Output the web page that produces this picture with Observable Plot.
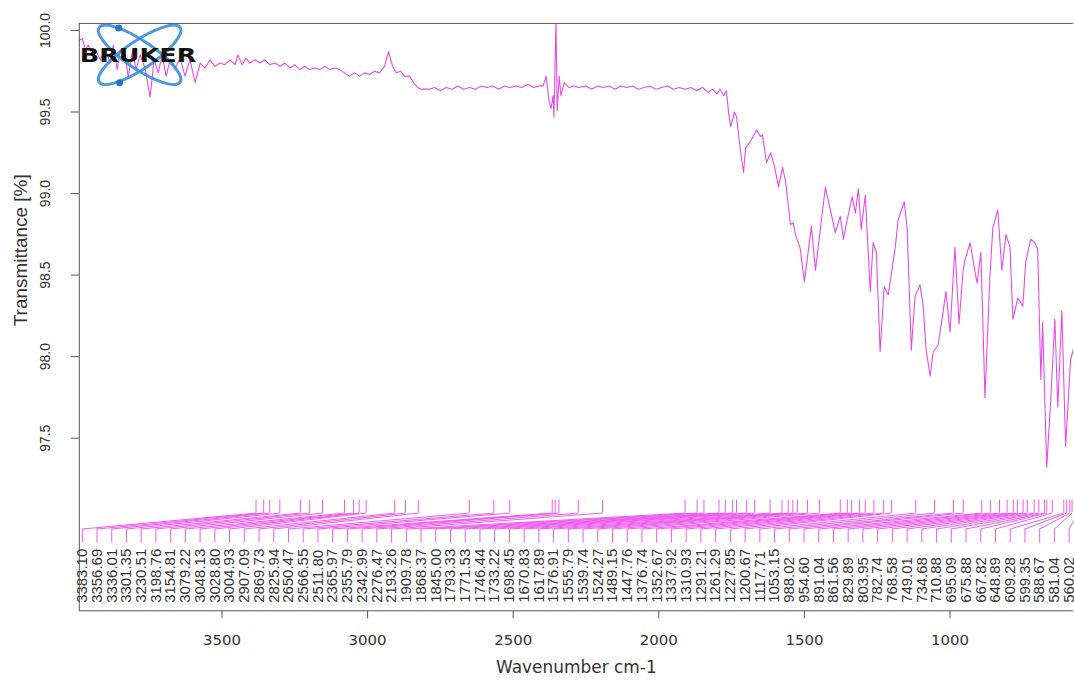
<!DOCTYPE html>
<html><head><meta charset="utf-8">
<script src="https://cdn.jsdelivr.net/npm/d3@7"></script>
<script src="https://cdn.jsdelivr.net/npm/@observablehq/plot@0.6"></script>
<style>html,body{margin:0;padding:0;overflow:hidden;background:#fff}</style>
</head><body><div id="chart"></div>
<script>
// Spectrum: wavenumber (cm-1) and transmittance (%)
const wavenumbers = [
3990,3979,3969,3959,3945,3935,3918,3901,3884,3873,3860,3849,3832,3822,3808,3795,3781,3764,3747,3733,
3719,3705,3692,3678,3661,3644,3627,3610,3592,3575,3558,3541,3524,3507,3490,3473,3455,3445,3431,3418,
3404,3387,3370,3353,3336,3318,3301,3284,3267,3250,3233,3216,3199,3181,3164,3147,3130,3113,3096,3079,
3062,3045,3027,3010,2993,2976,2959,2942,2928,2914,2901,2887,2873,2856,2842,2829,2815,2788,
2770,2750,2730,2710,2690,2670,2650,2630,2610,2590,2570,2550,2530,2510,2490,2470,2450,2430,2411,2397,
2387,2377,2370,2363,2360,2356,2353,2349,2342,2336,2325,2308,2290,2274,
2250,2230,2210,2190,2170,2150,2130,2110,2090,2070,2050,2030,2010,1990,1970,1950,1930,1910,1890,1870,
1850,1830,1815,1800,1790,1777,1768,
1760,1753,1740,1733,1719,1709,1702,1685,1664,1651,1644,1630,1616,1603,1589,1575,1565,1548,1538,1531,
1514,1500,1476,1462,1428,1394,1377,1366,1353,1336,1325,1315,1305,1291,1274,1264,1253,1240,1226,1212,
1188,1178,1157,1147,1133,1120,1103,1092,1082,1068,1058,1041,1024,1014,1000,983,969,955,949,931,
921,907,894,880,863,853,836,822,808,794,784,767,750,740,723,709,699,688,682,668,
654,640,630,616,603,586,576
];
const transmittance = [
99.94,99.95,99.88,99.91,99.85,99.88,99.82,99.89,99.80,99.91,99.76,99.88,99.85,99.71,99.87,99.76,99.85,99.77,99.59,99.82,
99.74,99.85,99.72,99.82,99.77,99.83,99.72,99.82,99.68,99.80,99.77,99.82,99.78,99.80,99.79,99.82,99.79,99.85,99.79,99.83,
99.80,99.82,99.80,99.82,99.79,99.80,99.78,99.80,99.77,99.79,99.76,99.78,99.76,99.77,99.76,99.78,99.76,99.77,99.76,99.74,
99.72,99.74,99.72,99.74,99.73,99.75,99.74,99.78,99.87,99.78,99.74,99.75,99.72,99.72,99.68,99.65,99.64,99.64,
99.65,99.63,99.65,99.64,99.66,99.64,99.65,99.64,99.66,99.65,99.66,99.64,99.66,99.65,99.66,99.65,99.67,99.65,99.66,99.66,
99.72,99.57,99.52,99.60,99.47,99.82,100.06,99.51,99.72,99.60,99.68,99.65,99.66,99.65,
99.66,99.64,99.66,99.65,99.66,99.64,99.66,99.65,99.66,99.64,99.65,99.66,99.64,99.65,99.66,99.64,99.65,99.64,99.65,99.63,
99.65,99.62,99.64,99.61,99.64,99.60,99.63,
99.49,99.41,99.50,99.47,99.25,99.13,99.28,99.32,99.39,99.35,99.36,99.19,99.25,99.17,99.04,99.16,99.08,98.81,98.82,98.75,
98.66,98.46,98.80,98.53,99.04,98.76,98.86,98.72,98.84,98.98,98.88,99.03,98.78,98.99,98.40,98.70,98.64,98.03,98.43,98.38,
98.67,98.84,98.95,98.78,98.04,98.37,98.44,98.31,98.04,97.88,98.03,98.07,98.27,98.40,98.15,98.67,98.20,98.53,98.59,98.70,
98.59,98.45,98.64,97.75,98.49,98.79,98.90,98.53,98.75,98.67,98.23,98.36,98.31,98.58,98.72,98.70,98.66,97.86,98.21,97.32,
97.74,98.23,97.69,98.28,97.45,97.98,98.05
];
// Peak picks
const peakLabels = [
"3383.10","3356.69","3336.01","3301.35","3230.51","3198.76","3154.81","3079.22","3048.13","3028.80",
"3004.93","2907.09","2869.73","2825.94","2650.47","2566.55","2511.80","2365.97","2355.79","2342.99",
"2276.47","2193.26","1909.78","1868.37","1845.00","1793.33","1771.53","1746.44","1733.22","1698.45",
"1670.83","1617.89","1576.91","1555.79","1539.74","1524.27","1489.15","1447.76","1376.74","1352.67",
"1337.92","1310.93","1291.21","1261.29","1227.85","1200.67","1117.71","1053.15","988.02","954.60",
"891.04","861.56","829.89","803.95","782.74","768.58","749.01","734.68","710.88","695.09",
"675.88","667.82","648.89","609.28","599.35","588.67","581.04","560.02"
];
const xTicks = [3500, 3000, 2500, 2000, 1500, 1000];
const yTicks = [97.5, 98.0, 98.5, 99.0, 99.5, 100.0];

const xTitle = "Wavenumber cm-1";
const yTitle = "Transmittance [%]";

// ---- layout ----
const W = 1077, H = 681;
const mL = 79, mR = 1, mT = 23, mB = 69;
const xDomain = [3990, 576];
const yDomain = [96.442, 100.043];
const pxY = (yDomain[1] - yDomain[0]) / (H - mT - mB); // data units per pixel (y)
const lineColor = "#e64ce6";
const pickColor = "#ee5cee";
const textColor = "#333";

const spectrum = wavenumbers.map((w, i) => ({w, t: transmittance[i]}));
const span = xDomain[0] - xDomain[1];
const lo = xDomain[0] - span * 0.003, hi = xDomain[1] + span * 0.0044;
const peaks = peakLabels.map((s, i) => ({
  w: +s, label: s, pos: lo + (hi - lo) * i / (peakLabels.length - 1)
}));
const yTickTop = yDomain[0] + pxY * 111;
const yTickBot = yDomain[0] + pxY * 98;
const yLinkBot = yDomain[0] + pxY * 82;
const yLabTickBot = yDomain[0] + pxY * 68;

const chart = Plot.plot({
  width: W, height: H,
  marginLeft: mL, marginRight: mR, marginTop: mT, marginBottom: mB,
  x: {domain: xDomain, axis: null},
  y: {domain: yDomain, axis: null},
  style: {background: "#fff", fontFamily: "'Liberation Sans', Arial, sans-serif", color: textColor},
  marks: [
    Plot.line(spectrum, {x: "w", y: "t", stroke: lineColor, strokeWidth: 1.1, clip: true}),
    Plot.ruleX(peaks, {x: "w", y1: yTickTop, y2: yTickBot, stroke: pickColor, strokeWidth: 1}),
    Plot.link(peaks, {x1: "w", y1: yTickBot, x2: "pos", y2: yLinkBot, stroke: pickColor, strokeWidth: 1}),
    Plot.ruleX(peaks, {x: "pos", y1: yLinkBot, y2: yLabTickBot, stroke: pickColor, strokeWidth: 1}),
    Plot.text(peaks, {x: "pos", y: yDomain[0], dy: -8, text: "label", rotate: -90, textAnchor: "start",
      lineAnchor: "middle", fontSize: 15, fill: textColor}),
    // frame
    Plot.ruleX([xDomain[0]], {stroke: "#555"}),
    Plot.ruleY([yDomain[0], yDomain[1]], {stroke: "#555"}),
    // axes ticks
    Plot.axisX({ticks: xTicks, tickSize: 8, tickFormat: () => "", label: null, stroke: "#555"}),
    Plot.axisY({ticks: yTicks, tickSize: 8, tickFormat: () => "", label: null, stroke: "#555"}),
    Plot.text(xTicks, {x: d => d, y: yDomain[0], dy: 29, text: d => String(d), fontSize: 15,
      fontFamily: "'DejaVu Sans', sans-serif", lineAnchor: "middle", fill: textColor}),
    Plot.text(yTicks, {x: xDomain[0], y: d => d, dx: -34, text: d => d.toFixed(1), rotate: -90,
      fontSize: 14, textAnchor: "middle", lineAnchor: "middle", fill: textColor}),
    Plot.text([xTitle], {frameAnchor: "bottom", dy: 57, text: d => d, fontSize: 17,
      fontFamily: "'DejaVu Sans', sans-serif", lineAnchor: "middle", fill: textColor}),
    Plot.text([yTitle], {frameAnchor: "left", dx: -59, dy: -67, text: d => d, rotate: -90, fontSize: 19,
      textAnchor: "middle", lineAnchor: "middle", fill: textColor})
  ]
});

// BRUKER logo (decoration)
const svg = d3.select(chart);
const logo = svg.append("g");
[34, -34].forEach(a => {
  logo.append("ellipse").attr("cx", 140).attr("cy", 55).attr("rx", 49).attr("ry", 14)
    .attr("transform", `rotate(${a} 140 55)`)
    .attr("fill", "none").attr("stroke", "#3b8ed8").attr("stroke-width", 3).attr("opacity", 0.9);
});
[[119, 28], [120, 83]].forEach(([cx, cy]) => {
  logo.append("circle").attr("cx", cx).attr("cy", cy).attr("r", 3.5).attr("fill", "#2477c8");
});
logo.append("text").attr("x", 80).attr("y", 62).text("BRUKER")
  .attr("text-anchor", "start")
  .attr("font-family", "'DejaVu Sans', sans-serif").attr("font-weight", 900).attr("font-size", 19)
  .attr("textLength", 117).attr("lengthAdjust", "spacingAndGlyphs").attr("fill", "#111");

document.getElementById("chart").appendChild(chart);
</script>
</body></html>
